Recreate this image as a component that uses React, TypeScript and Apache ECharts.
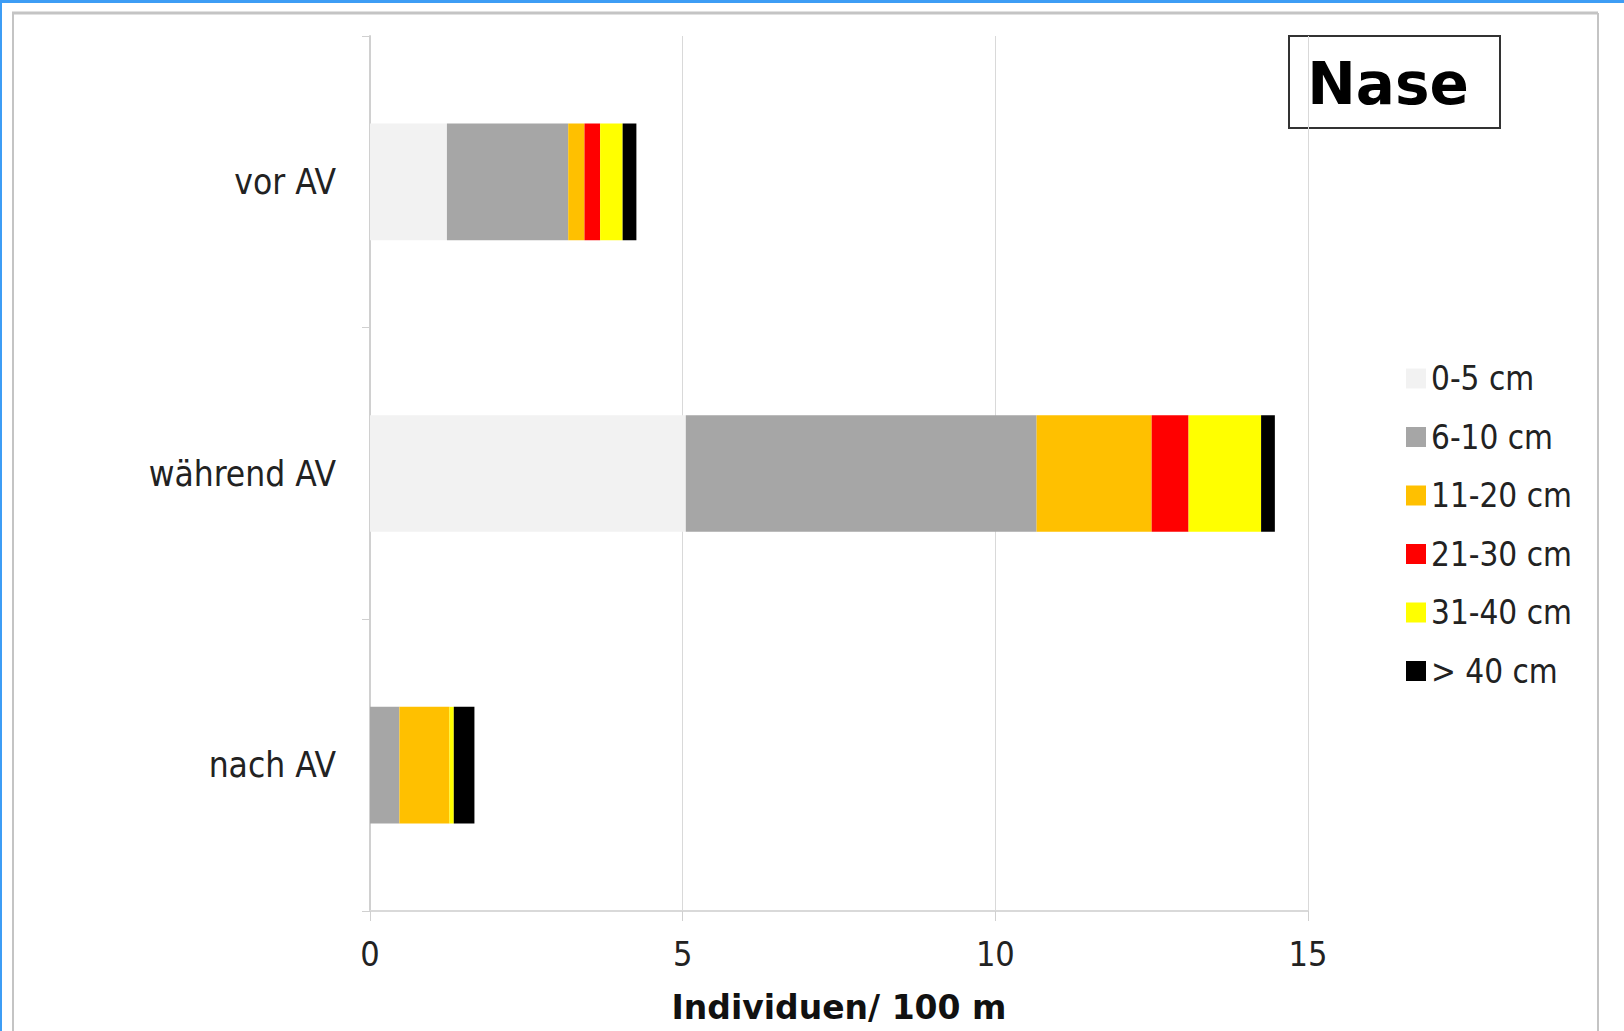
import React, { useEffect, useRef } from "react";
import * as echarts from "echarts";

const categories = ["vor AV", "während AV", "nach AV"];
const seriesNames = ["0-5 cm", "6-10 cm", "11-20 cm", "21-30 cm", "31-40 cm", "> 40 cm"];
const seriesColors = ["#f2f2f2", "#a6a6a6", "#ffc000", "#ff0000", "#ffff00", "#000000"];
const v0to5 = [1.23, 5.05, 0];
const v6to10 = [1.94, 5.61, 0.47];
const v11to20 = [0.26, 1.84, 0.8];
const v21to30 = [0.25, 0.59, 0];
const v31to40 = [0.36, 1.16, 0.07];
const vOver40 = [0.22, 0.22, 0.33];
const xTicks = [0, 5, 10, 15];
const titleText = "Nase";
const axisTitle = "Individuen/ 100 m";

const FONT = "'DejaVu Sans Condensed', 'DejaVu Sans', sans-serif";

export default function App() {
  const ref = useRef<HTMLDivElement>(null);
  useEffect(() => {
    if (!ref.current) return;
    const chart = echarts.init(ref.current, null, { renderer: "svg" });
    const values = [v0to5, v6to10, v11to20, v21to30, v31to40, vOver40];
    const series = seriesNames.map((name, i) => ({
      name,
      type: "bar",
      stack: "total",
      barWidth: "40%",
      data: values[i],
      itemStyle: { color: seriesColors[i] },
      emphasis: { disabled: true },
    }));
    chart.setOption({
      animation: false,
      backgroundColor: "#ffffff",
      textStyle: { fontFamily: FONT },
      grid: { left: 370, top: 36, width: 938, height: 875, containLabel: false },
      xAxis: {
        type: "value",
        min: xTicks[0],
        max: xTicks[xTicks.length - 1],
        interval: 5,
        name: axisTitle,
        nameLocation: "middle",
        nameGap: 80,
        nameTextStyle: { fontFamily: "'DejaVu Sans', sans-serif", fontWeight: "bold", fontSize: 33, color: "#111" },
        axisLine: { show: true, lineStyle: { color: "#d9d9d9", width: 2 } },
        axisTick: { show: true, length: 10, lineStyle: { color: "#d0d0d0", width: 1 } },
        axisLabel: { fontSize: 34, color: "#222", margin: 26, fontFamily: FONT },
        splitLine: { show: true, lineStyle: { color: "#d9d9d9", width: 1 } },
      },
      yAxis: {
        type: "category",
        inverse: true,
        data: categories,
        axisLine: { show: true, lineStyle: { color: "#d0d0d0", width: 2 } },
        axisTick: { show: true, length: 8, lineStyle: { color: "#d0d0d0", width: 1 } },
        axisLabel: { fontSize: 35, color: "#222", margin: 34, fontFamily: FONT },
        splitLine: { show: false },
      },
      legend: {
        orient: "vertical",
        left: 1401,
        top: 357,
        itemWidth: 20,
        itemHeight: 20,
        itemGap: 25.5,
        icon: "rect",
        selectedMode: false,
        data: seriesNames,
        textStyle: { fontSize: 33, color: "#222", lineHeight: 32, fontFamily: FONT },
      },
      graphic: [
        { type: "rect", shape: { x: 0, y: 0, width: 1624, height: 3 }, style: { fill: "#3d9df5" }, silent: true },
        { type: "rect", shape: { x: 0, y: 0, width: 2, height: 1031 }, style: { fill: "#3d9df5" }, silent: true },
        { type: "line", shape: { x1: 12, y1: 13, x2: 1598, y2: 13 }, style: { stroke: "#c4c4c4", lineWidth: 3 }, silent: true },
        { type: "line", shape: { x1: 13, y1: 13, x2: 13, y2: 1031 }, style: { stroke: "#c4c4c4", lineWidth: 2 }, silent: true },
        { type: "line", shape: { x1: 1598, y1: 13, x2: 1598, y2: 1031 }, style: { stroke: "#c4c4c4", lineWidth: 2 }, silent: true },
        { type: "rect", shape: { x: 1289, y: 36, width: 211, height: 92 }, style: { fill: "#ffffff", stroke: "#333333", lineWidth: 2 }, silent: true },
        {
          type: "text",
          x: 1388,
          y: 84,
          style: {
            text: titleText,
            fontFamily: "'DejaVu Sans', sans-serif",
            fontWeight: "bold",
            fontSize: 58,
            fill: "#000",
            align: "center",
            verticalAlign: "middle",
          },
          silent: true,
        },
      ],
      series,
    });
    return () => chart.dispose();
  }, []);
  return (
    <div
      ref={ref}
      style={{ position: "fixed", left: 0, top: 0, width: 1624, height: 1031, background: "#fff" }}
    />
  );
}
